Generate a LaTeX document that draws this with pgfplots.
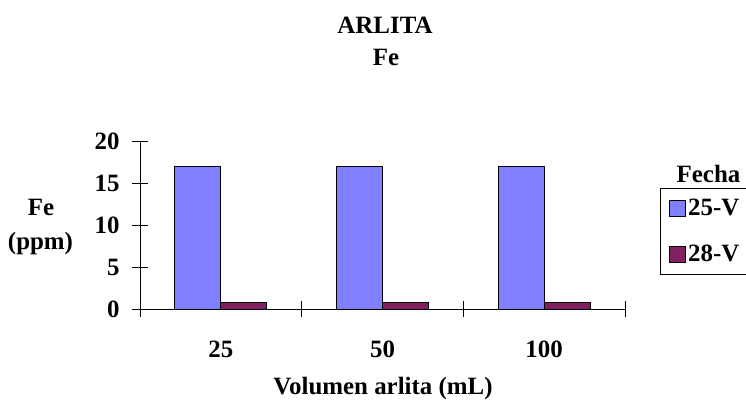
\documentclass[border=0pt]{standalone}
\usepackage{pgfplots}
\pgfplotsset{compat=1.18}
\usepackage{fontspec}
\setmainfont{Liberation Serif}
\definecolor{serA}{HTML}{8080FF}
\definecolor{serB}{HTML}{802060}
\newcommand{\bigbf}{\bfseries\fontsize{25}{29}\selectfont}
\begin{document}
\begin{tikzpicture}[x=1bp,y=1bp]
\useasboundingbox (0,0) rectangle (746,403);
\begin{axis}[
  at={(140bp,94bp)}, anchor=south west,
  scale only axis, width=485bp, height=168bp,
  xmin=-0.5, xmax=2.5, ymin=0, ymax=20,
  axis x line=bottom, axis y line=left,
  axis line style={-, black, line width=0.8bp},
  ybar=0pt, bar width=46bp,
  xtick={-0.5,0.5,1.5,2.5}, xticklabels={},
  extra x ticks={0,1,2}, extra x tick labels={25,50,100},
  extra x tick style={major tick length=0pt, xticklabel style={yshift=-28bp}},
  ytick={0,5,10,15,20},
  tick align=center, major tick length=16bp,
  tick style={black, line width=0.8bp},
  ticklabel style={font=\bigbf},
  yticklabel style={xshift=-9bp},
  /pgf/number format/assume math mode=true,
  legend style={at={(1.0722,0.720)}, anchor=north west, draw=black, line width=0.8bp,
    fill=white, font=\bigbf, legend cell align=left, row sep=24bp,
    inner xsep=9bp, inner ysep=9bp},
]
\addplot[fill=serA, draw=black, line width=0.8bp,
  legend image code/.code={\draw[fill=serA, draw=black, line width=0.8bp] (0bp,-8bp) rectangle (16bp,8bp);}]
  coordinates {(0,17) (1,17) (2,17)};
\addlegendentry{25-V\hspace{20bp}}
\addplot[fill=serB, draw=black, line width=0.8bp,
  legend image code/.code={\draw[fill=serB, draw=black, line width=0.8bp] (0bp,-8bp) rectangle (16bp,8bp);}]
  coordinates {(0,0.8) (1,0.8) (2,0.8)};
\addlegendentry{28-V\hspace{20bp}}
\end{axis}
\node[font=\bigbf, anchor=base] at (385,370) {ARLITA};
\node[font=\bigbf, anchor=base] at (386,338) {Fe};
\node[font=\bigbf, anchor=base] at (41,188) {Fe};
\node[font=\bigbf, anchor=base] at (40.5,154) {(ppm)};
\node[font=\bigbf, anchor=base] at (383,9) {Volumen arlita (mL)};
\node[font=\bigbf, anchor=base] at (708.5,221) {Fecha};
\end{tikzpicture}
\end{document}
